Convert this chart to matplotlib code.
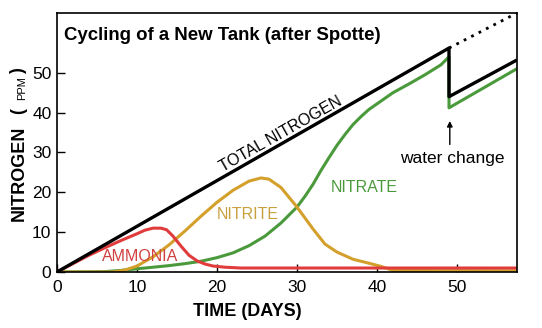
import numpy as np
import matplotlib.pyplot as plt

plt.rcParams['font.family'] = ['Liberation Sans', 'DejaVu Sans']

# total nitrogen (black), before and after water change
total_days = [0, 49, 49, 57.3]
total_ppm = [0, 56.2, 44, 53]
# dotted: what total nitrogen would be without a water change
nochange_days = [49, 57.5]
nochange_ppm = [56.2, 65]

ammonia_days = [0, 2, 4, 6, 8, 10, 11, 12, 13, 13.7, 14.5, 15.5, 16.5, 17.5,
                18.5, 19.5, 21, 23, 57.5]
ammonia_ppm = [0, 2.1, 4.2, 6.1, 7.9, 9.6, 10.5, 11, 11, 10.6, 9, 6.5, 4.2, 2.8,
               2, 1.5, 1.2, 1.0, 1.0]

nitrite_days = [0, 7, 8.5, 10, 12, 14, 16, 18, 20, 22, 24, 25.5, 26.5, 28, 30,
                32, 33.5, 35, 37, 39, 40.5, 42, 57.5]
nitrite_ppm = [0, 0, 0.5, 1.5, 3.8, 6.8, 10.3, 14, 17.5, 20.5, 22.8, 23.6, 23.3,
               21.2, 16.3, 10.8, 7, 5, 3.2, 2.2, 1.4, 0.4, 0.3]

nitrate_days = [0, 6, 8, 10, 12, 14, 16, 18, 20, 22, 24, 26, 28, 30, 31, 32, 33,
                34, 35, 36, 37, 38, 39, 40, 42, 44, 46, 48, 49, 49, 57.3]
nitrate_ppm = [0, 0.1, 0.4, 0.8, 1.2, 1.6, 2.1, 2.7, 3.6, 4.8, 6.6, 9, 12.3,
               16.3, 19, 22, 25.5, 28.7, 31.8, 34.5, 37, 39, 40.8, 42.2, 45, 47.2,
               49.5, 52, 54, 41.2, 50.8]

fig = plt.figure(figsize=(5.42, 3.28), dpi=100)
ax = fig.add_axes([57/542, 1-272/328, 460/542, 259/328])

ax.plot(nitrate_days, nitrate_ppm, color='#4a9a3c', lw=2.2)
ax.plot(nitrite_days, nitrite_ppm, color='#d4a02c', lw=2.2)
ax.plot(ammonia_days, ammonia_ppm, color='#e03c3c', lw=2.2)
ax.plot(total_days, total_ppm, color='black', lw=2.4)
ax.plot(nochange_days, nochange_ppm, color='black', lw=2, ls=(0, (1, 2)))

ax.set_xlim(0, 57.5)
ax.set_ylim(0, 65)
ax.set_xticks([0, 10, 20, 30, 40, 50])
ax.set_yticks([0, 10, 20, 30, 40, 50])
ax.tick_params(direction='in', length=6, width=1, labelsize=12.5)
ax.tick_params(axis='x', pad=6)
ax.tick_params(axis='y', pad=4)
for s in ax.spines.values():
    s.set_linewidth(1.2)

ax.text(0.015, 0.915, 'Cycling of a New Tank (after Spotte)', transform=ax.transAxes,
        fontsize=13.4, fontweight='bold', ha='left', va='center')

ax.text(28, 34.6, 'TOTAL NITROGEN', rotation=29.5, fontsize=11.5,
        ha='center', va='center', rotation_mode='anchor')
ax.text(23.9, 14.4, 'NITRITE', color='#c8a040', fontsize=11.5, ha='center', va='center')
ax.text(38.4, 21.2, 'NITRATE', color='#4a9a3c', fontsize=11.5, ha='center', va='center')
ax.text(10.4, 3.8, 'AMMONIA', color='#d04040', fontsize=11.5, ha='center', va='center')
ax.text(49.4, 28.6, 'water change', fontsize=12.5, ha='center', va='center')
ax.annotate('', xy=(49.1, 38.6), xytext=(49.1, 31.3),
            arrowprops=dict(arrowstyle='-|>', color='black', lw=1, mutation_scale=8))

fig.text(247/542, 1-312/328, 'TIME (DAYS)', fontsize=13, fontweight='bold',
         ha='center', va='center')
fig.text(19/542, 1-173/328, 'NITROGEN', fontsize=13, fontweight='bold',
         rotation=90, ha='center', va='center')
fig.text(19/542, 1-111/328, '(', fontsize=13, fontweight='bold',
         rotation=90, ha='center', va='center')
fig.text(22/542, 1-88/328, 'PPM', fontsize=8,
         rotation=90, ha='center', va='center')
fig.text(19/542, 1-71/328, ')', fontsize=13, fontweight='bold',
         rotation=90, ha='center', va='center')

fig.savefig('out.png', dpi=100)
